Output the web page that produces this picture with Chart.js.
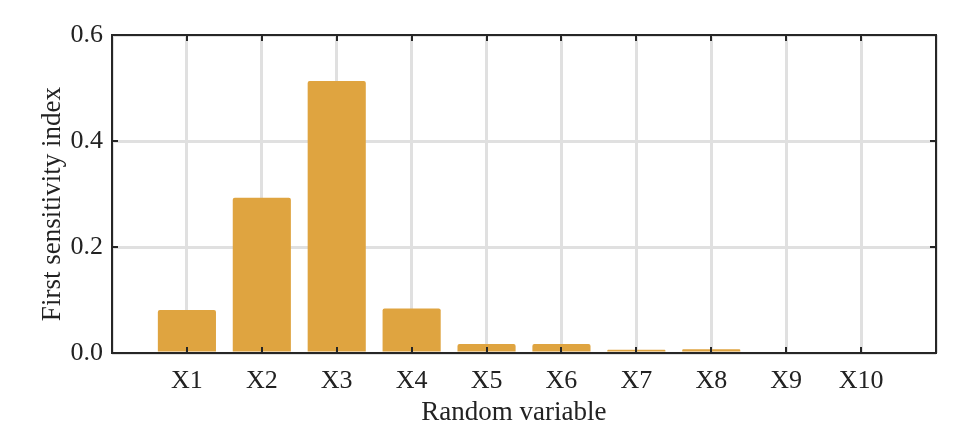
<!DOCTYPE html>
<html>
<head>
    <meta charset="UTF-8">
    <title>First sensitivity index</title>
    <script src="https://cdn.jsdelivr.net/npm/chart.js@4.4.0/dist/chart.umd.min.js"></script>
    <style>
        html, body { margin: 0; padding: 0; background: #fff; }
        #wrap { width: 974px; height: 436px; }
    </style>
</head>
<body>
<div id="wrap"><canvas id="sens"></canvas></div>

<script>
    // data
    var categories = ['X1', 'X2', 'X3', 'X4', 'X5', 'X6', 'X7', 'X8', 'X9', 'X10'];
    var firstIndex = [0.081, 0.293, 0.513, 0.084, 0.017, 0.017, 0.006, 0.007, 0.0, 0.0];
    var yTicks = [0, 0.2, 0.4, 0.6];

    var barColor = '#dfa440';
    var frameColor = '#262626';
    var fontFamily = '"Liberation Serif", "Times New Roman", serif';

    // one empty slot each side so X1 sits one step in from the frame
    var labels = [''].concat(categories, ['']);
    var values = [null].concat(firstIndex, [null]);

    // frame on all four sides with inward ticks, drawn over the bars
    var framePlugin = {
        id: 'frame',
        afterDatasetsDraw: function (chart) {
            var ctx = chart.ctx, a = chart.chartArea;
            var xs = chart.scales.x, ys = chart.scales.y;
            var len = 6;
            ctx.save();
            ctx.strokeStyle = frameColor;
            ctx.lineWidth = 2;
            ctx.beginPath();
            for (var i = 1; i <= categories.length; i++) {
                var px = Math.round(xs.getPixelForValue(i));
                ctx.moveTo(px, a.bottom); ctx.lineTo(px, a.bottom - len);
                ctx.moveTo(px, a.top); ctx.lineTo(px, a.top + len);
            }
            yTicks.forEach(function (v) {
                var py = Math.round(ys.getPixelForValue(v));
                ctx.moveTo(a.left, py); ctx.lineTo(a.left + len, py);
                ctx.moveTo(a.right, py); ctx.lineTo(a.right - len, py);
            });
            ctx.stroke();
            ctx.strokeRect(a.left, a.top, a.right - a.left, a.bottom - a.top);
            ctx.restore();
        }
    };

    var ctx = document.getElementById('sens').getContext('2d');
    var chart = new Chart(ctx, {
        type: 'bar',
        data: {
            labels: labels,
            datasets: [{
                data: values,
                backgroundColor: barColor,
                borderWidth: 0,
                borderRadius: 2,
                borderSkipped: 'start',
                categoryPercentage: 0.8,
                barPercentage: 0.97
            }]
        },
        options: {
            responsive: true,
            maintainAspectRatio: false,
            animation: false,
            layout: { padding: { top: 35, right: 38, bottom: 0, left: 0 } },
            plugins: {
                legend: { display: false },
                tooltip: { enabled: false }
            },
            scales: {
                x: {
                    offset: false,
                    grid: { color: '#e0e0e0', lineWidth: 3, drawTicks: false, offset: false },
                    border: { display: false },
                    ticks: {
                        color: '#222',
                        padding: 13,
                        maxRotation: 0,
                        autoSkip: false,
                        font: { family: fontFamily, size: 26 }
                    },
                    title: {
                        display: true,
                        // trailing spaces nudge the label left like the original
                        text: 'Random variable   ',
                        color: '#222',
                        padding: { top: 0, bottom: 7 },
                        font: { family: fontFamily, size: 27 }
                    },
                    afterFit: function (scale) { scale.height = 83; }
                },
                y: {
                    min: 0,
                    max: 0.6,
                    grid: { color: '#e0e0e0', lineWidth: 3, drawTicks: false },
                    border: { display: false },
                    ticks: {
                        stepSize: 0.2,
                        color: '#222',
                        padding: 9,
                        font: { family: fontFamily, size: 26 },
                        callback: function (v) { return v.toFixed(1); }
                    },
                    title: {
                        display: true,
                        text: 'First sensitivity index   ',
                        color: '#222',
                        padding: { top: 37, bottom: 0 },
                        font: { family: fontFamily, size: 27 }
                    },
                    afterFit: function (scale) { scale.width = 112; }
                }
            }
        },
        plugins: [framePlugin]
    });
</script>
</body>
</html>
